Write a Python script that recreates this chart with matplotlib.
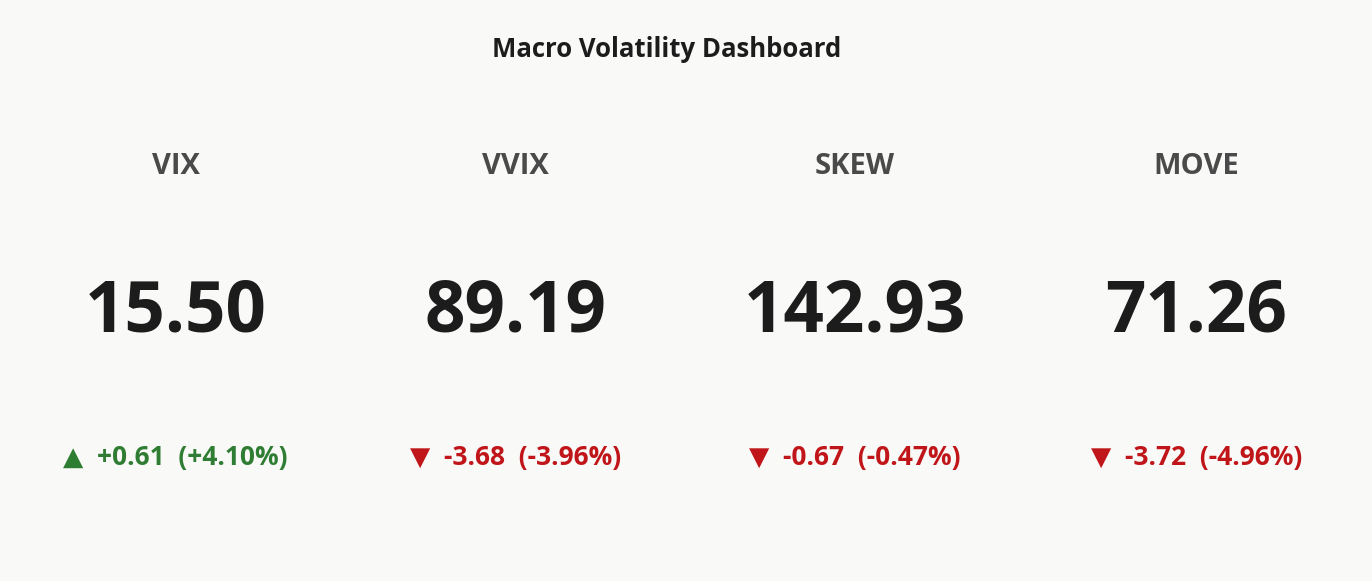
import matplotlib
matplotlib.use("Agg")
import matplotlib.pyplot as plt

names = ["VIX", "VVIX", "SKEW", "MOVE"]
values = [15.50, 89.19, 142.93, 71.26]
changes = [0.61, -3.68, -0.67, -3.72]
pct = [4.10, -3.96, -0.47, -4.96]

bg = "#f9f9f7"
fig = plt.figure(figsize=(13.72, 5.81), dpi=100, facecolor=bg)
fam = ["Open Sans", "DejaVu Sans"]
fig.text(0.486, 0.915, "Macro Volatility Dashboard", ha="center", va="center",
         fontsize=18.5, fontweight="bold", color="#1c1c1c", family=fam)
xs = [0.128, 0.376, 0.623, 0.872]
for x, n, v, c, p in zip(xs, names, values, changes, pct):
    fig.text(x, 0.713, n, ha="center", va="center", fontsize=21,
             fontweight="bold", color="#4a4a4a", family=fam)
    fig.text(x, 0.462, f"{v:.2f}", ha="center", va="center", fontsize=51,
             fontweight="bold", color="#1c1c1c", family=fam)
    up = c >= 0
    col = "#2e7d32" if up else "#c0161a"
    arrow = "▲" if up else "▼"
    fig.text(x, 0.213, f"{arrow}  {c:+.2f}  ({p:+.2f}%)", ha="center", va="center",
             fontsize=19, fontweight="bold", color=col, family=fam)
fig.savefig("out.png", facecolor=bg)
